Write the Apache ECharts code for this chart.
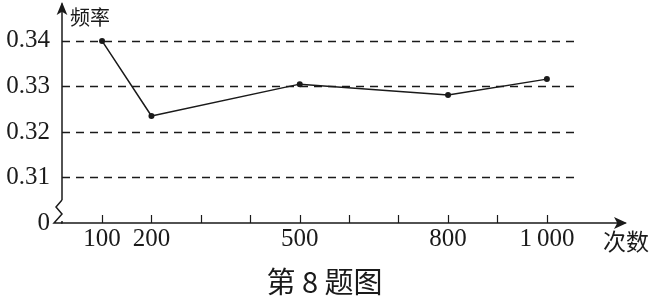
<!DOCTYPE html>
<html>
<head>
<meta charset="utf-8">
<script src="https://cdn.jsdelivr.net/npm/echarts@6/dist/echarts.min.js"></script>
<style>
html,body{margin:0;padding:0;background:#fff;}
#c{width:649px;height:304px;}
</style>
</head>
<body>
<div id="c"></div>
<script>
// Data
const trials = [100, 200, 500, 800, 1000];
const freq = [0.340, 0.3235, 0.3305, 0.3281, 0.3316];
const gridValues = [0.31, 0.32, 0.33, 0.34];
const yLabelValues = [0.30, 0.31, 0.32, 0.33, 0.34];
const xTickValues = [100, 200, 300, 400, 500, 600, 700, 800, 900, 1000];
const xLabelValues = [100, 200, 500, 800, 1000];

const X_MIN = 19, X_MAX = 1158, DASH_END = 1057;
const Y_MIN = 0.30, Y_MAX = 0.3481;
const INK = '#1a1a1a';
const SERIF = 'Liberation Serif, Times New Roman, Times, serif';
const CJK = '"Noto Sans CJK SC","Noto Sans",sans-serif';

const chart = echarts.init(document.getElementById('c'), null, {renderer: 'canvas'});

const dashed = gridValues.map(v => [
  {coord: [X_MIN, v]},
  {coord: [DASH_END, v]}
]);

chart.setOption({
  animation: false,
  backgroundColor: '#fff',
  grid: {left: 62, right: 24, top: 4, bottom: 81, containLabel: false},
  xAxis: {
    type: 'value', min: X_MIN, max: X_MAX,
    axisLine: {show: true, symbol: ['none', 'arrow'], symbolSize: [9, 13], symbolOffset: [0, 2],
      lineStyle: {color: INK, width: 1.5}},
    axisTick: {show: true, inside: true, length: 8, customValues: xTickValues,
      lineStyle: {color: INK, width: 1.2}},
    axisLabel: {show: true, customValues: xLabelValues, margin: 4,
      fontFamily: SERIF, fontSize: 25, color: INK,
      formatter: v => v >= 1000 ? '1\u2009000' : String(v)},
    splitLine: {show: false}
  },
  yAxis: {
    type: 'value', min: Y_MIN, max: Y_MAX,
    axisLine: {show: true, symbol: ['none', 'arrow'], symbolSize: [8, 13], symbolOffset: [0, 2],
      lineStyle: {color: INK, width: 1.5}},
    axisTick: {show: false},
    axisLabel: {show: true, customValues: yLabelValues, margin: 12,
      fontFamily: SERIF, fontSize: 25, color: INK,
      formatter: v => v < 0.305 ? '0' : v.toFixed(2)},
    splitLine: {show: false}
  },
  series: [{
    type: 'line',
    data: trials.map((t, i) => [t, freq[i]]),
    symbol: 'circle', symbolSize: 6,
    itemStyle: {color: INK},
    lineStyle: {color: INK, width: 1.5},
    z: 5,
    markLine: {
      silent: true, symbol: 'none',
      label: {show: false},
      lineStyle: {color: INK, width: 1.3, type: [8, 6]},
      emphasis: {disabled: true},
      data: dashed
    }
  }]
});

// decorations: axis break zigzag and titles
const p0 = chart.convertToPixel({gridIndex: 0}, [X_MIN, Y_MIN]);
const ax = p0[0], ay = p0[1];
chart.setOption({
  graphic: [
    {type: 'rect', shape: {x: ax - 4, y: ay - 23, width: 8, height: 21}, style: {fill: '#fff'}, z: 100},
    {type: 'polyline', shape: {points: [[ax, ay - 23], [ax - 6, ay - 16], [ax, ay - 9], [ax - 8, ay], [ax, ay]]},
      style: {stroke: INK, lineWidth: 1.5, fill: null}, z: 101},
    {type: 'text', left: 70, top: 7, style: {text: '频率', font: '20px ' + CJK, fill: INK}, z: 101},
    {type: 'text', left: 603, top: 230, style: {text: '次数', font: '23px ' + CJK, fill: INK}, z: 101},
    {type: 'text', left: 'center', top: 267, style: {text: '第 8 题图', font: '29px ' + CJK, fill: INK}, z: 101}
  ]
});
</script>
</body>
</html>
